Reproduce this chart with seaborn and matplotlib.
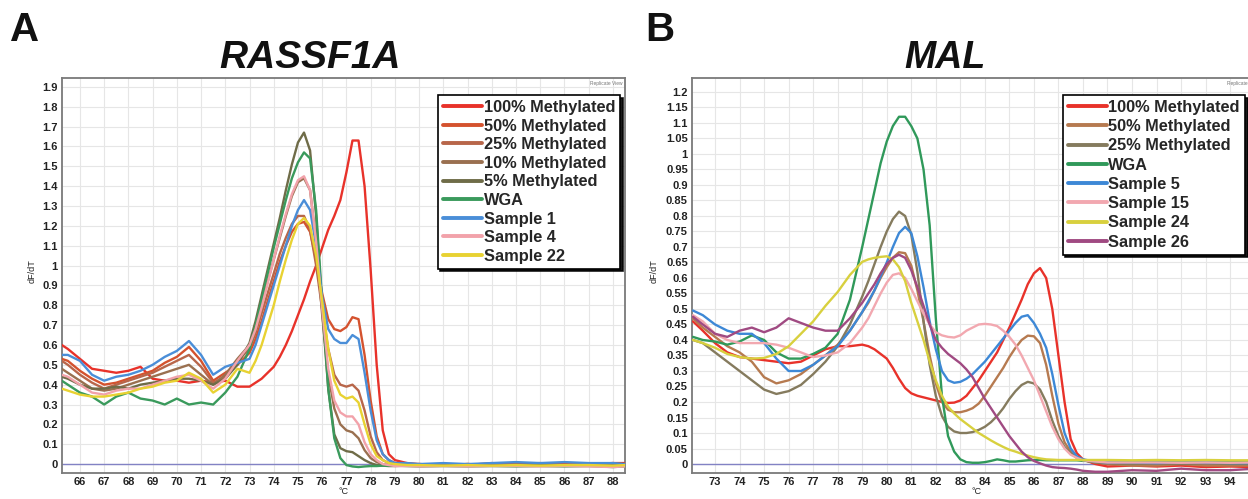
import numpy as np
import pandas as pd
import matplotlib
matplotlib.use("Agg")
import matplotlib.pyplot as plt
import seaborn as sns
from matplotlib.lines import Line2D
from matplotlib.ticker import FuncFormatter, MultipleLocator

# ---- Panel A : RASSF1A melt curves (dF/dT vs temperature) ----
temp_a = [65.25, 65.5, 66, 66.5, 67, 67.5, 68, 68.5, 69, 69.5, 70, 70.5, 71, 71.5, 72, 72.5, 73,
          73.25, 73.5, 73.75, 74, 74.25, 74.5, 74.75, 75, 75.25, 75.5, 75.75, 76, 76.25, 76.5, 76.75,
          77, 77.25, 77.5, 77.75, 78, 78.25, 78.5, 78.75, 79,
          79.5, 80, 81, 82, 83, 84, 85, 86, 87, 88, 88.5]

a_100 = [0.60, 0.58, 0.53, 0.48, 0.47, 0.46, 0.47, 0.49, 0.43, 0.42, 0.42, 0.41, 0.42, 0.41, 0.42, 0.39, 0.39,
         0.41, 0.43, 0.46, 0.49, 0.54, 0.60, 0.67, 0.75, 0.83, 0.92, 1.00, 1.09, 1.18, 1.25, 1.33, 1.47, 1.63,
         1.63, 1.40, 0.98, 0.50, 0.17, 0.05, 0.02,
         0.005, 0.0, -0.005, 0.0, -0.005, 0.0, -0.005, 0.0, -0.005, 0.005, 0.005]
a_50 = [0.53, 0.52, 0.47, 0.43, 0.40, 0.41, 0.43, 0.45, 0.47, 0.51, 0.54, 0.59, 0.52, 0.42, 0.46, 0.50, 0.56,
        0.63, 0.72, 0.82, 0.92, 1.02, 1.10, 1.17, 1.21, 1.22, 1.17, 1.03, 0.86, 0.73, 0.68, 0.67, 0.69, 0.74,
        0.73, 0.55, 0.32, 0.14, 0.05, 0.02, 0.005,
        0.0, -0.005, 0.0, -0.005, 0.005, -0.005, 0.0, -0.005, 0.0, 0.005, 0.0]
a_25 = [0.52, 0.50, 0.45, 0.41, 0.38, 0.40, 0.42, 0.44, 0.46, 0.49, 0.52, 0.55, 0.49, 0.41, 0.44, 0.52, 0.58,
        0.66, 0.76, 0.86, 0.96, 1.06, 1.14, 1.21, 1.25, 1.25, 1.18, 1.00, 0.78, 0.58, 0.45, 0.40, 0.39, 0.40,
        0.37, 0.27, 0.14, 0.06, 0.02, 0.005, 0.0,
        -0.005, 0.0, -0.005, 0.0, -0.005, 0.0, 0.005, -0.005, 0.0, -0.005, 0.0]
a_10 = [0.48, 0.46, 0.42, 0.38, 0.37, 0.38, 0.40, 0.42, 0.44, 0.46, 0.48, 0.50, 0.45, 0.40, 0.45, 0.53, 0.60,
        0.69, 0.80, 0.92, 1.03, 1.14, 1.25, 1.35, 1.42, 1.44, 1.38, 1.12, 0.75, 0.45, 0.28, 0.20, 0.17, 0.16,
        0.13, 0.07, 0.03, 0.01, 0.0, -0.005, -0.005,
        -0.005, 0.0, -0.005, 0.0, -0.005, -0.005, 0.0, -0.005, 0.0, -0.005, 0.0]
a_5 = [0.44, 0.43, 0.40, 0.38, 0.38, 0.39, 0.38, 0.40, 0.41, 0.42, 0.43, 0.43, 0.42, 0.40, 0.43, 0.50, 0.61,
       0.72, 0.85, 0.98, 1.11, 1.24, 1.38, 1.51, 1.62, 1.67, 1.58, 1.25, 0.78, 0.38, 0.15, 0.08, 0.065, 0.06,
       0.04, 0.02, 0.005, -0.005, -0.008, -0.01, -0.01,
       -0.008, -0.005, -0.008, -0.005, -0.008, -0.005, -0.005, -0.008, -0.005, -0.005, -0.005]
a_wga = [0.42, 0.40, 0.36, 0.34, 0.30, 0.34, 0.36, 0.33, 0.32, 0.30, 0.33, 0.30, 0.31, 0.30, 0.36, 0.44, 0.58,
         0.70, 0.83, 0.96, 1.09, 1.21, 1.33, 1.44, 1.52, 1.57, 1.54, 1.28, 0.82, 0.38, 0.13, 0.03, -0.005, -0.012,
         -0.015, -0.012, -0.01, -0.01, -0.008, -0.008, -0.008,
         -0.01, -0.012, -0.01, -0.012, -0.01, -0.012, -0.01, -0.012, -0.01, -0.015, -0.012]
a_s1 = [0.55, 0.55, 0.52, 0.45, 0.42, 0.44, 0.45, 0.47, 0.50, 0.54, 0.57, 0.62, 0.55, 0.45, 0.49, 0.51, 0.53,
        0.60, 0.70, 0.80, 0.90, 1.00, 1.10, 1.20, 1.28, 1.33, 1.28, 1.10, 0.84, 0.68, 0.63, 0.61, 0.61, 0.65,
        0.63, 0.46, 0.27, 0.12, 0.05, 0.02, 0.005,
        0.005, 0.0, 0.005, 0.0, 0.005, 0.01, 0.005, 0.01, 0.005, 0.005, 0.0]
a_s4 = [0.45, 0.44, 0.40, 0.36, 0.35, 0.37, 0.38, 0.38, 0.40, 0.42, 0.44, 0.45, 0.42, 0.38, 0.43, 0.52, 0.60,
        0.68, 0.79, 0.91, 1.03, 1.15, 1.26, 1.36, 1.43, 1.45, 1.38, 1.12, 0.78, 0.48, 0.32, 0.26, 0.24, 0.24,
        0.20, 0.11, 0.05, 0.02, 0.0, -0.005, -0.01,
        -0.01, -0.012, -0.01, -0.012, -0.01, -0.01, -0.012, -0.01, -0.012, -0.015, -0.012]
a_s22 = [0.38, 0.37, 0.35, 0.34, 0.34, 0.35, 0.36, 0.38, 0.39, 0.41, 0.42, 0.46, 0.43, 0.36, 0.40, 0.48, 0.46,
         0.52, 0.60, 0.70, 0.80, 0.92, 1.03, 1.13, 1.21, 1.24, 1.20, 1.05, 0.82, 0.58, 0.42, 0.35, 0.33, 0.34,
         0.31, 0.20, 0.10, 0.04, 0.02, 0.005, 0.0,
         -0.005, -0.005, -0.008, -0.005, -0.008, -0.005, -0.008, -0.005, -0.005, -0.008, -0.005]

names_a = ["100% Methylated", "50% Methylated", "25% Methylated", "10% Methylated", "5% Methylated",
           "WGA", "Sample 1", "Sample 4", "Sample 22"]
values_a = [a_100, a_50, a_25, a_10, a_5, a_wga, a_s1, a_s4, a_s22]
colors_a = ["#e8322a", "#d4522e", "#b8664a", "#9a7050", "#6f6c48", "#3a9a5c", "#4a8ed8", "#f2a2aa", "#e8d232"]

# ---- Panel B : MAL melt curves ----
temp_b = [72.1, 72.5, 73, 73.5, 74, 74.5, 75, 75.5, 76, 76.5, 77, 77.5, 78, 78.5, 79,
          79.25, 79.5, 79.75, 80, 80.25, 80.5, 80.75, 81, 81.25, 81.5, 81.75, 82, 82.25, 82.5, 82.75,
          83, 83.25, 83.5, 83.75, 84, 84.25, 84.5, 84.75, 85, 85.25, 85.5, 85.75, 86, 86.25, 86.5, 86.75,
          87, 87.25, 87.5, 87.75, 88,
          88.5, 89, 90, 91, 92, 93, 94, 95, 95.5]

b_100 = [0.46, 0.43, 0.39, 0.36, 0.345, 0.34, 0.335, 0.33, 0.325, 0.33, 0.35, 0.37, 0.38, 0.38, 0.385,
         0.38, 0.37, 0.355, 0.34, 0.31, 0.275, 0.245, 0.228, 0.22, 0.215, 0.21, 0.205, 0.20, 0.197, 0.198,
         0.205, 0.22, 0.245, 0.27, 0.30, 0.33, 0.36, 0.40, 0.44, 0.485, 0.53, 0.58, 0.615, 0.632, 0.60, 0.50,
         0.35, 0.20, 0.08, 0.035, 0.015,
         0.0, -0.008, -0.005, -0.008, -0.005, -0.01, -0.008, -0.01, -0.01]
b_50 = [0.47, 0.44, 0.41, 0.38, 0.36, 0.33, 0.28, 0.26, 0.27, 0.29, 0.32, 0.35, 0.385, 0.43, 0.49,
        0.52, 0.56, 0.60, 0.635, 0.665, 0.683, 0.68, 0.64, 0.56, 0.46, 0.35, 0.26, 0.20, 0.175, 0.167,
        0.167, 0.172, 0.18, 0.195, 0.22, 0.25, 0.28, 0.31, 0.345, 0.375, 0.40, 0.414, 0.412, 0.39, 0.32, 0.22,
        0.13, 0.07, 0.04, 0.02, 0.012,
        0.005, 0.0, -0.005, -0.005, 0.0, -0.005, -0.005, -0.005, -0.005]
b_25 = [0.40, 0.39, 0.36, 0.33, 0.30, 0.27, 0.24, 0.226, 0.235, 0.255, 0.29, 0.33, 0.38, 0.45, 0.54,
        0.59, 0.645, 0.70, 0.75, 0.79, 0.814, 0.80, 0.74, 0.62, 0.46, 0.32, 0.22, 0.155, 0.12, 0.105,
        0.10, 0.10, 0.103, 0.11, 0.12, 0.135, 0.155, 0.18, 0.21, 0.235, 0.255, 0.265, 0.26, 0.24, 0.20, 0.14,
        0.09, 0.055, 0.035, 0.02, 0.012,
        0.005, 0.002, 0.0, 0.002, 0.0, 0.002, 0.0, 0.0, 0.0]
b_wga = [0.41, 0.40, 0.395, 0.385, 0.395, 0.415, 0.40, 0.36, 0.34, 0.34, 0.355, 0.375, 0.42, 0.53, 0.70,
         0.79, 0.88, 0.97, 1.04, 1.09, 1.12, 1.12, 1.09, 1.05, 0.95, 0.77, 0.47, 0.22, 0.09, 0.04,
         0.015, 0.006, 0.004, 0.004, 0.006, 0.01, 0.015, 0.012, 0.008, 0.008, 0.01, 0.012, 0.013, 0.013, 0.012,
         0.012, 0.012, 0.012, 0.012, 0.012, 0.01,
         0.01, 0.01, 0.008, 0.008, 0.008, 0.008, 0.007, 0.008, 0.008]
b_s5 = [0.495, 0.48, 0.45, 0.43, 0.42, 0.42, 0.39, 0.34, 0.30, 0.30, 0.32, 0.35, 0.38, 0.43, 0.49,
        0.525, 0.56, 0.605, 0.65, 0.70, 0.745, 0.765, 0.745, 0.67, 0.57, 0.46, 0.37, 0.30, 0.27, 0.262,
        0.265, 0.275, 0.29, 0.31, 0.33, 0.355, 0.38, 0.405, 0.43, 0.455, 0.475, 0.48, 0.455, 0.42, 0.375, 0.29,
        0.19, 0.10, 0.05, 0.025, 0.015,
        0.008, 0.005, 0.005, 0.003, 0.005, 0.005, 0.003, 0.003, 0.003]
b_s15 = [0.48, 0.46, 0.42, 0.40, 0.39, 0.39, 0.39, 0.385, 0.375, 0.36, 0.345, 0.35, 0.36, 0.39, 0.44,
         0.47, 0.51, 0.55, 0.585, 0.61, 0.615, 0.60, 0.565, 0.525, 0.485, 0.45, 0.425, 0.415, 0.41, 0.408,
         0.415, 0.43, 0.44, 0.45, 0.452, 0.45, 0.445, 0.43, 0.41, 0.385, 0.35, 0.31, 0.27, 0.22, 0.17, 0.12,
         0.08, 0.05, 0.03, 0.02, 0.012,
         0.008, 0.005, 0.005, 0.005, 0.004, 0.005, 0.004, 0.005, 0.005]
b_s24 = [0.40, 0.39, 0.375, 0.355, 0.345, 0.34, 0.342, 0.355, 0.38, 0.42, 0.46, 0.51, 0.555, 0.61, 0.652,
         0.66, 0.665, 0.668, 0.67, 0.66, 0.635, 0.59, 0.52, 0.46, 0.40, 0.33, 0.27, 0.22, 0.185, 0.163,
         0.145, 0.13, 0.115, 0.10, 0.088, 0.076, 0.065, 0.055, 0.046, 0.04, 0.033, 0.027, 0.022, 0.018, 0.015,
         0.014, 0.013, 0.013, 0.013, 0.013, 0.013,
         0.013, 0.013, 0.012, 0.013, 0.012, 0.013, 0.012, 0.012, 0.012]
b_s26 = [0.475, 0.45, 0.42, 0.41, 0.43, 0.44, 0.425, 0.44, 0.47, 0.455, 0.44, 0.43, 0.43, 0.47, 0.52,
         0.55, 0.58, 0.615, 0.645, 0.665, 0.675, 0.665, 0.625, 0.57, 0.51, 0.45, 0.40, 0.375, 0.355, 0.34,
         0.325, 0.305, 0.28, 0.245, 0.21, 0.18, 0.15, 0.12, 0.09, 0.065, 0.04, 0.022, 0.01, 0.002, -0.005,
         -0.01, -0.012, -0.013, -0.015, -0.018, -0.022,
         -0.025, -0.025, -0.02, -0.022, -0.015, -0.02, -0.02, -0.015, -0.015]

names_b = ["100% Methylated", "50% Methylated", "25% Methylated", "WGA",
           "Sample 5", "Sample 15", "Sample 24", "Sample 26"]
values_b = [b_100, b_50, b_25, b_wga, b_s5, b_s15, b_s24, b_s26]
colors_b = ["#e8322a", "#b67a50", "#857b5e", "#30995a", "#3d88d6", "#f2a8b0", "#d8d03e", "#a04a82"]


def to_long(temps, names, values):
    parts = [pd.DataFrame({"temp": temps, "dfdt": v, "sample": n}) for n, v in zip(names, values)]
    return pd.concat(parts, ignore_index=True)


sns.set_theme(style="white")
plt.rcParams["font.family"] = ["Liberation Sans", "DejaVu Sans"]

W, H = 1248, 499
fig = plt.figure(figsize=(W / 100, H / 100), dpi=100)


def panel(rect, temps, names, values, colors, xlim, ylim, xticks, ystep, legend_anchor, ylab_x, spacing):
    ax = fig.add_axes(rect)
    df = to_long(temps, names, values)
    ax.axhline(0, color="#8282c4", lw=1.0, zorder=1)
    sns.lineplot(data=df, x="temp", y="dfdt", hue="sample", hue_order=names,
                 palette=dict(zip(names, colors)), lw=1.7, sort=False, legend=False,
                 ax=ax, zorder=3)
    ax.set_xlim(*xlim)
    ax.set_ylim(*ylim)
    ax.set_xticks(xticks)
    ax.yaxis.set_major_locator(MultipleLocator(ystep))
    ax.yaxis.set_major_formatter(FuncFormatter(lambda v, p: f"{v:g}"))
    ax.grid(True, color="#e6e6e6", lw=0.8)
    ax.set_axisbelow(True)
    ax.tick_params(length=0, labelsize=8, labelcolor="#222222", pad=3)
    for lab in ax.get_xticklabels() + ax.get_yticklabels():
        lab.set_fontweight("bold")
    for s in ax.spines.values():
        s.set_color("#7a7a7a")
        s.set_linewidth(1.3)
    ax.set_xlabel("°C", fontsize=6.5, labelpad=0, color="#222222")
    ax.set_ylabel("dF/dT", fontsize=6.5, color="#222222")
    ax.yaxis.set_label_coords(ylab_x, 0.51)
    ax.text(0.995, 0.993, "Replicate View", transform=ax.transAxes, ha="right", va="top",
            fontsize=3.5, color="#777777")
    handles = [Line2D([], [], color=c, lw=2.8) for c in colors]
    leg = ax.legend(handles, names, loc="upper right", bbox_to_anchor=legend_anchor,
                    borderaxespad=0, frameon=True, fancybox=False, shadow={"color": "black", "alpha": 0.9},
                    prop={"size": 11.8, "weight": "bold"}, handlelength=2.4, handletextpad=0.1,
                    labelspacing=spacing, borderpad=0.3)
    leg.get_frame().set_edgecolor("black")
    leg.get_frame().set_linewidth(1.2)
    leg.set_zorder(10)
    return ax


ax_a = panel([62 / W, 26 / H, 563 / W, 395 / H], temp_a, names_a, values_a, colors_a,
             (65.26, 88.5), (-0.045, 1.945), list(range(66, 89)), 0.1, (0.991, 0.957), -0.045, 0.22)
ax_b = panel([692 / W, 26 / H, 570 / W, 395 / H], temp_b, names_b, values_b, colors_b,
             (72.06, 95.3), (-0.029, 1.245), list(range(73, 96)), 0.05, (0.970, 0.957), -0.058, 0.26)

fig.text(10 / W, 1 - 30 / H, "A", fontsize=29, fontweight="bold", ha="left", va="center", color="#111111")
fig.text(645 / W, 1 - 30 / H, "B", fontsize=29, fontweight="bold", ha="left", va="center", color="#111111")
fig.text(310 / W, 1 - 58 / H, "RASSF1A", fontsize=28, fontweight="bold", fontstyle="italic",
         ha="center", va="center", color="#111111")
fig.text(945 / W, 1 - 58 / H, "MAL", fontsize=27, fontweight="bold", fontstyle="italic",
         ha="center", va="center", color="#111111")

fig.savefig("out.png", dpi=100)
